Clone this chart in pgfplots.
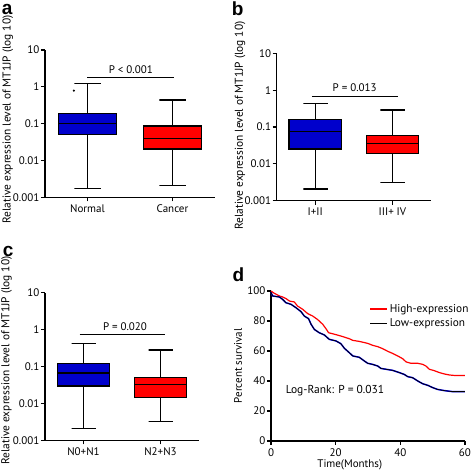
\documentclass[border=0pt]{standalone}
\usepackage{fontspec}
\setmainfont{PT Sans}
\newfontfamily\labfont{Liberation Sans}
\usepackage{pgfplots}
\pgfplotsset{compat=1.18}
\pgfkeys{/pgf/number format/assume math mode=true}
\definecolor{bblue}{rgb}{0,0,0.8}
\definecolor{rred}{rgb}{1,0,0}
\newcommand\fs{\fontsize{11}{13}\selectfont}
\pgfplotsset{
  myBase/.style={scale only axis, axis lines=left, axis line style={-, line width=1.2pt},
    tick style={black, line width=1.1pt}, major tick length=4pt, tick align=outside,
    tick label style={font=\fs},
    yticklabel style={inner sep=1.5pt},
    label style={font=\fs}, clip=false},
  myBox/.style={myBase, ymin=0.001, ymax=10, xmin=0.5, xmax=2.5,
    ytick={0.001,0.01,0.1,1,10}, yticklabels={0.001,0.01,0.1,1,10}, yminorticks=false,
    xtick={1,2}, ylabel={Relative expression level of MT1JP (log 10)},
    label style={font=\fontsize{11.4}{13}\selectfont}},
  wsk/.style={black, line width=1.2pt, mark=none, solid, line cap=rect},
  bxs/.style={draw=black, line width=1.2pt, mark=none, solid, line cap=rect, line join=miter}
}
\begin{document}
\begin{tikzpicture}
\path[use as bounding box] (0pt,0pt) rectangle (472pt,472pt);
% panel a
\begin{axis}[ymode=log, myBox, at={(45pt,274.7pt)}, anchor=south west, width=170pt, height=147.3pt,
  xticklabels={Normal,Cancer}, ylabel style={at={(rel axis cs:-0.218,0.528)}, anchor=center}]
\addplot[wsk] coordinates {(1,0.184)(1,1.22)(0.845,1.22)(1.155,1.22)};
\addplot[wsk] coordinates {(1,0.0502)(1,0.00171)(0.845,0.00171)(1.155,0.00171)};
\addplot[bxs, fill=bblue] coordinates {(0.66,0.0502)(1.34,0.0502)(1.34,0.184)(0.66,0.184)(0.66,0.0502)};
\addplot[wsk] coordinates {(0.66,0.1)(1.34,0.1)};
\addplot[wsk] coordinates {(2,0.0865)(2,0.44)(1.845,0.44)(2.155,0.44)};
\addplot[wsk] coordinates {(2,0.0205)(2,0.00212)(1.845,0.00212)(2.155,0.00212)};
\addplot[bxs, fill=rred] coordinates {(1.66,0.0205)(2.34,0.0205)(2.34,0.0865)(1.66,0.0865)(1.66,0.0205)};
\addplot[wsk] coordinates {(1.66,0.040)(2.34,0.040)};
\addplot[only marks, mark=*, mark size=0.9pt, black] coordinates {(0.84,0.79)};
\draw[line width=1.1pt] (axis cs:1.0,1.78) -- (axis cs:2.02,1.78);
\node[font=\fs] at (axis cs:1.51,3.0) {P < 0.001};
\end{axis}
% panel b
\begin{axis}[ymode=log, myBox, at={(276.7pt,271.3pt)}, anchor=south west, width=154.3pt, height=147.4pt,
  xticklabels={I+II,III+ IV}, ylabel style={at={(rel axis cs:-0.238,0.51)}, anchor=center}]
\addplot[wsk] coordinates {(1,0.162)(1,0.44)(0.845,0.44)(1.155,0.44)};
\addplot[wsk] coordinates {(1,0.0253)(1,0.00208)(0.845,0.00208)(1.155,0.00208)};
\addplot[bxs, fill=bblue] coordinates {(0.66,0.0253)(1.34,0.0253)(1.34,0.162)(0.66,0.162)(0.66,0.0253)};
\addplot[wsk] coordinates {(0.66,0.0745)(1.34,0.0745)};
\addplot[wsk] coordinates {(2,0.0596)(2,0.289)(1.845,0.289)(2.155,0.289)};
\addplot[wsk] coordinates {(2,0.0193)(2,0.00315)(1.845,0.00315)(2.155,0.00315)};
\addplot[bxs, fill=rred] coordinates {(1.66,0.0193)(2.34,0.0193)(2.34,0.0596)(1.66,0.0596)(1.66,0.0193)};
\addplot[wsk] coordinates {(1.66,0.0361)(2.34,0.0361)};
\draw[line width=1.1pt] (axis cs:0.956,0.66) -- (axis cs:2.07,0.66);
\node[font=\fs] at (axis cs:1.511,1.19) {P = 0.013};
\end{axis}
% panel c
\begin{axis}[ymode=log, myBox, at={(45pt,31.7pt)}, anchor=south west, width=154pt, height=147.6pt,
  xticklabels={N0+N1,N2+N3}, ylabel style={at={(rel axis cs:-0.25,0.54)}, anchor=center}]
\addplot[wsk] coordinates {(1,0.119)(1,0.43)(0.845,0.43)(1.155,0.43)};
\addplot[wsk] coordinates {(1,0.0296)(1,0.00206)(0.845,0.00206)(1.155,0.00206)};
\addplot[bxs, fill=bblue] coordinates {(0.66,0.0296)(1.34,0.0296)(1.34,0.119)(0.66,0.119)(0.66,0.0296)};
\addplot[wsk] coordinates {(0.66,0.0667)(1.34,0.0667)};
\addplot[wsk] coordinates {(2,0.0509)(2,0.28)(1.845,0.28)(2.155,0.28)};
\addplot[wsk] coordinates {(2,0.0146)(2,0.00319)(1.845,0.00319)(2.155,0.00319)};
\addplot[bxs, fill=rred] coordinates {(1.66,0.0146)(2.34,0.0146)(2.34,0.0509)(1.66,0.0509)(1.66,0.0146)};
\addplot[wsk] coordinates {(1.66,0.033)(2.34,0.033)};
\draw[line width=1.1pt] (axis cs:0.95,0.73) -- (axis cs:2.06,0.73);
\node[font=\fs] at (axis cs:1.539,1.2) {P = 0.020};
\end{axis}
% panel d
\begin{axis}[myBase, at={(271pt,31pt)}, anchor=south west, width=194pt, height=150pt,
  xmin=0, xmax=60, ymin=0, ymax=100, xtick={0,20,40,60}, ytick={0,20,40,60,80,100},
  xlabel={Time(Months)}, ylabel={Percent survival},
  ylabel style={at={(rel axis cs:-0.17,0.5)}, anchor=center},
  xlabel style={at={(rel axis cs:0.406,-0.16)}, anchor=center},
  legend style={draw=none, fill=none, at={(rel axis cs:0.49,0.94)}, anchor=north west,
    font=\fontsize{11.3}{13}\selectfont, row sep=1pt},
  legend cell align=left]
\addplot[rred, line width=1.2pt] coordinates {(0,100)(1,98.5)(2.6,96.7)(3.6,96)(4.6,95)(5.7,93.3)(7.2,92.7)(8.2,90)(9.8,87.8)(11.3,85)(12.9,83.3)(14.4,81)(16,77.8)(17,74.9)(17.8,72.2)(20.1,70.9)(22.2,69.6)(24.2,68.2)(25.3,67.1)(27.3,66.4)(29.9,65.1)(31.4,63.8)(33,62.9)(34.5,61.6)(36.1,59.8)(37.6,58.4)(39.2,56.7)(40.7,54.9)(41.8,52.7)(43.3,51.8)(45.4,51.8)(46.9,51.1)(47.9,50)(49,47.8)(50.5,46.9)(52.1,45.6)(53.6,44.7)(55.2,44)(57.2,43.6)(60,43.6)};
\addlegendentry{High-expression}
\addplot[blue, line width=1.5pt, forget plot] coordinates {(0,99)(0.5,96.7)(2.6,96)(3.6,94.4)(4.6,92.2)(6.2,91.1)(7.7,88.9)(9.3,86.2)(10.3,83.3)(11.6,81.6)(12.4,77.8)(13.4,74.4)(14.9,72.2)(16.5,70.7)(18,67.8)(20.1,66.7)(21.6,64.9)(22.7,61.8)(24.2,58.9)(25.3,56.7)(27.3,55.8)(28.9,53.3)(29.9,51.8)(31.4,51.1)(33,50)(34,48.4)(35.6,47.8)(37.6,47.1)(39.7,45.6)(41.2,44.4)(42.3,42.9)(43.8,42.2)(45.4,40)(46.9,38.2)(48.5,37.1)(50,35.6)(51.5,34.4)(53.6,33.6)(56.2,32.9)(60,32.9)};
\addplot[black, line width=0.8pt, legend image code/.code={\draw[blue,line width=1.5pt] (0pt,0pt) -- (17pt,0pt); \draw[black,line width=0.8pt] (0pt,0pt) -- (17pt,0pt);}] coordinates {(0,99)(0.5,96.7)(2.6,96)(3.6,94.4)(4.6,92.2)(6.2,91.1)(7.7,88.9)(9.3,86.2)(10.3,83.3)(11.6,81.6)(12.4,77.8)(13.4,74.4)(14.9,72.2)(16.5,70.7)(18,67.8)(20.1,66.7)(21.6,64.9)(22.7,61.8)(24.2,58.9)(25.3,56.7)(27.3,55.8)(28.9,53.3)(29.9,51.8)(31.4,51.1)(33,50)(34,48.4)(35.6,47.8)(37.6,47.1)(39.7,45.6)(41.2,44.4)(42.3,42.9)(43.8,42.2)(45.4,40)(46.9,38.2)(48.5,37.1)(50,35.6)(51.5,34.4)(53.6,33.6)(56.2,32.9)(60,32.9)};
\addlegendentry{Low-expression}
\node[font=\fontsize{11.5}{13}\selectfont] at (axis cs:19.8,33.3) {Log-Rank: P = 0.031};
\end{axis}
\node[anchor=base west, inner sep=0pt, font=\labfont\bfseries\fontsize{19}{19}\selectfont] at (1.7pt,457pt) {a};
\node[anchor=base west, inner sep=0pt, font=\labfont\bfseries\fontsize{19}{19}\selectfont] at (231.7pt,456.3pt) {b};
\node[anchor=base west, inner sep=0pt, font=\labfont\bfseries\fontsize{19}{19}\selectfont] at (2.7pt,215.3pt) {c};
\node[anchor=base west, inner sep=0pt, font=\labfont\bfseries\fontsize{19}{19}\selectfont] at (232.3pt,190.3pt) {d};
\end{tikzpicture}
\end{document}
